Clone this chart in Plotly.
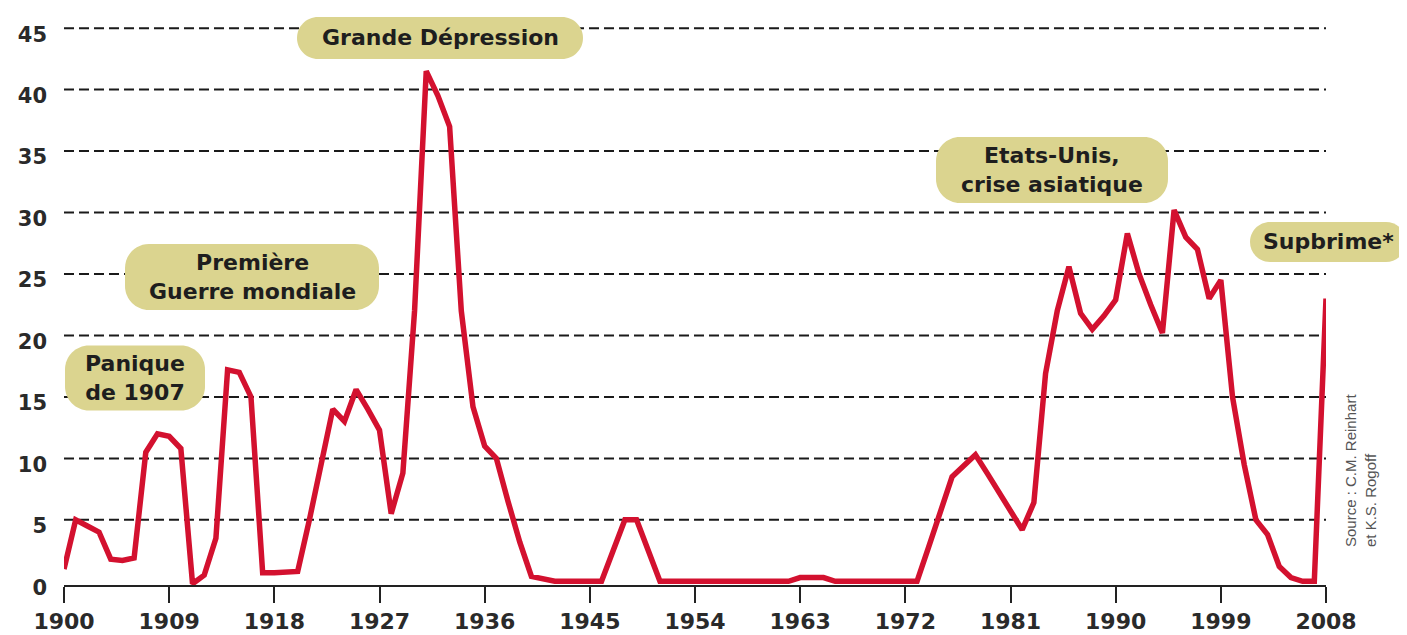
import plotly.graph_objects as go

# ---------------- data ----------------
years = list(range(1900, 2009))
share = [
    1.0, 5.0, 4.5, 4.0, 1.8, 1.7, 1.9, 10.5, 12.0, 11.8,          # 1900-1909
    10.8, -0.2, 0.5, 3.5, 17.2, 17.0, 15.0, 0.7, 0.7, 0.7,        # 1910-1919
    0.8, 5.0, 9.5, 14.0, 13.0, 15.6, 14.0, 12.3, 5.5, 8.8,        # 1920-1929
    22.0, 41.5, 39.5, 37.0, 22.0, 14.2, 11.0, 10.0, 6.5, 3.2,     # 1930-1939
    0.4, 0.2, 0.0, 0.0, 0.0, 0.0, 0.0, 2.5, 5.0, 5.0,             # 1940-1949
    2.5, 0.0, 0.0, 0.0, 0.0, 0.0, 0.0, 0.0, 0.0, 0.0,             # 1950-1959
    0.0, 0.0, 0.0, 0.3, 0.3, 0.3, 0.0, 0.0, 0.0, 0.0,             # 1960-1969
    0.0, 0.0, 0.0, 0.0, 2.8, 5.6, 8.5, 9.4, 10.3, 8.8,            # 1970-1979
    7.3, 5.7, 4.2, 6.4, 16.9, 22.0, 25.6, 21.8, 20.5, 21.6,       # 1980-1989
    22.9, 28.3, 25.0, 22.5, 20.2, 30.2, 28.0, 27.0, 23.0, 24.5,   # 1990-1999
    15.0, 9.5, 5.0, 3.8, 1.2, 0.3, 0.0, 0.0, 23.0,                # 2000-2008
]
x_ticks = list(range(1900, 2009, 9))
y_ticks = list(range(0, 46, 5))
grid_levels = list(range(5, 46, 5))
event_labels = [
    "Grande Dépression",
    "Première<br>Guerre mondiale",
    "Panique<br>de 1907",
    "Etats-Unis,<br>crise asiatique",
    "Supbrime*",
]
source_text = "Source : C.M. Reinhart<br>et K.S. Rogoff"

# ---------------- geometry (page pixels; page body has an 8px margin) ----------------
OFF = 8
W, H = 1407 - OFF, 635 - OFF
L, R, T, B = 64 - OFF, 1326 - OFF, 22 - OFF, 585 - OFF


def px_x(p):
    return (p - OFF - L) / (R - L)


def px_y(p):
    return (B - (p - OFF)) / (B - T)


# label box centres / sizes in page pixels (layout only)
boxes = [
    (440, 38, 286, 42),
    (252, 277, 254, 66),
    (135, 378, 140, 65),
    (1052, 170, 232, 66),
    (1328, 242, 156, 40),
]


def rounded_rect(w, h, r):
    k = 0.5523 * r
    x0, x1 = -w / 2, w / 2
    y0, y1 = -h / 2, h / 2
    return (
        f"M {x0 + r},{y0} L {x1 - r},{y0} "
        f"C {x1 - r + k},{y0} {x1},{y0 + r - k} {x1},{y0 + r} "
        f"L {x1},{y1 - r} "
        f"C {x1},{y1 - r + k} {x1 - r + k},{y1} {x1 - r},{y1} "
        f"L {x0 + r},{y1} "
        f"C {x0 + r - k},{y1} {x0},{y1 - r + k} {x0},{y1 - r} "
        f"L {x0},{y0 + r} "
        f"C {x0},{y0 + r - k} {x0 + r - k},{y0} {x0 + r},{y0} Z"
    )


FONT = "DejaVu Sans"
TXT = "#2a2a2a"
RED = "#d3112f"
PILL = "#dbd48f"

fig = go.Figure()
fig.add_trace(
    go.Scatter(
        x=years,
        y=share,
        mode="lines",
        line=dict(color=RED, width=5.5),
        hoverinfo="skip",
        showlegend=False,
    )
)

shapes = []
for g in grid_levels:
    shapes.append(
        dict(
            type="line", xref="x", yref="y", x0=1900, x1=2008, y0=g, y1=g,
            line=dict(color="#1a1a1a", width=2, dash="10px,5px"), layer="below",
        )
    )
annotations = []
for (cx, cy, bw, bh), label in zip(boxes, event_labels):
    shapes.append(
        dict(
            type="path", xref="paper", yref="paper",
            xsizemode="pixel", ysizemode="pixel",
            xanchor=px_x(cx), yanchor=px_y(cy),
            path=rounded_rect(bw, bh, min(bh / 2, 24)),
            fillcolor=PILL, line=dict(width=0), layer="above",
        )
    )
    annotations.append(
        dict(
            x=px_x(cx), y=px_y(cy), xref="paper", yref="paper",
            text=label, showarrow=False, xanchor="center", yanchor="middle",
            font=dict(family=FONT, size=22, color="#1e1e1e", weight="bold"),
            align="center",
        )
    )

annotations.append(
    dict(
        x=px_x(1360), y=px_y(470), xref="paper", yref="paper",
        text=source_text, showarrow=False, textangle=-90,
        xanchor="center", yanchor="middle",
        font=dict(family="Liberation Sans", size=15, color="#555555"),
        align="left",
    )
)

fig.update_layout(
    width=W, height=H,
    margin=dict(l=L, r=W - R, t=T, b=H - B, autoexpand=False),
    paper_bgcolor="white", plot_bgcolor="white",
    shapes=shapes, annotations=annotations,
    showlegend=False, hovermode=False,
    xaxis=dict(
        range=[1900, 2008], tickvals=x_ticks, ticktext=[str(v) for v in x_ticks],
        showgrid=False, zeroline=False, showline=True, linecolor="#222222", linewidth=2,
        ticks="outside", ticklen=16, tickwidth=2, tickcolor="#222222",
        tickfont=dict(family=FONT, size=22, color=TXT, weight="bold"),
        fixedrange=True, automargin=False,
    ),
    yaxis=dict(
        range=[-0.3, 45.5], tickvals=y_ticks, ticktext=[str(v) for v in y_ticks],
        showgrid=False, zeroline=False, showline=False, ticks="",
        ticklabelstandoff=16, ticklabelshift=6,
        tickfont=dict(family=FONT, size=21, color=TXT, weight="bold"),
        fixedrange=True, automargin=False,
    ),
)

fig.write_html("out.html")
